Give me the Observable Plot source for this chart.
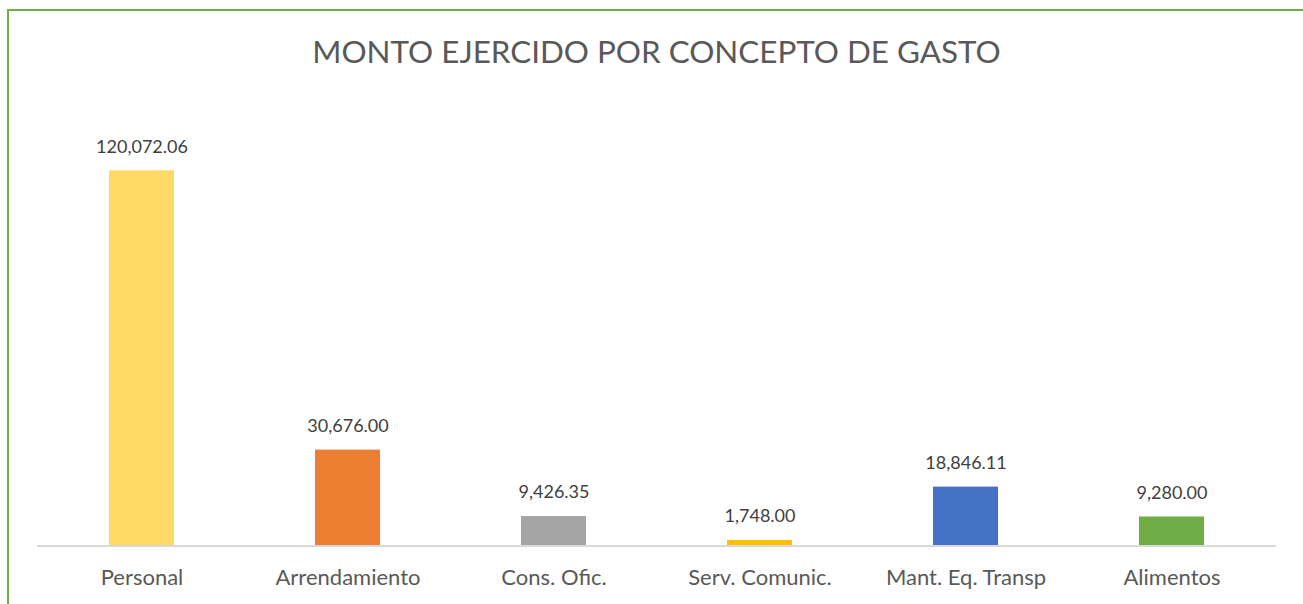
<!DOCTYPE html>
<html>
<head>
<meta charset="utf-8">
<script src="https://cdn.jsdelivr.net/npm/d3@7"></script>
<script src="https://cdn.jsdelivr.net/npm/@observablehq/plot@0.6"></script>
<style>
  html, body { margin: 0; padding: 0; background: #fff; }
  #wrap { position: relative; width: 1303px; height: 604px; overflow: hidden; font-family: Lato, "Open Sans", sans-serif; }
  #frame { position: absolute; left: 7px; top: 9px; width: 1320px; height: 640px; border: 2px solid #70AD47; box-sizing: border-box; }
  #title { position: relative; height: 90px; text-align: center; font-size: 31.4px; color: #595959; line-height: 1; padding-top: 36px; box-sizing: border-box; padding-left: 10px; }
  #chart { position: relative; }
</style>
</head>
<body>
<div id="wrap">
  <div id="frame"></div>
  <div id="title">MONTO EJERCIDO POR CONCEPTO DE GASTO</div>
  <div id="chart"></div>
</div>
<script>
const categories = ["Personal", "Arrendamiento", "Cons. Ofic.", "Serv. Comunic.", "Mant. Eq. Transp", "Alimentos"];
const values = [120072.06, 30676.00, 9426.35, 1748.00, 18846.11, 9280.00];
const colors = ["#FFD966", "#ED7D31", "#A5A5A5", "#FFC000", "#4472C4", "#70AD47"];

const data = categories.map((c, i) => ({ category: c, value: values[i] }));
const fmt = d3.format(",.2f");

const chart = Plot.plot({
  width: 1303,
  height: 514,
  marginLeft: 37,
  marginRight: 27,
  marginTop: 18,
  marginBottom: 58.5,
  style: { fontFamily: "Lato, 'Open Sans', sans-serif", background: "transparent" },
  x: { domain: categories, paddingInner: 0.685, paddingOuter: 0.3425, label: null },
  y: { domain: [0, 140000], axis: null },
  color: { domain: categories, range: colors },
  marks: [
    Plot.barY(data, { x: "category", y: "value", fill: "category" }),
    Plot.ruleY([0], { stroke: "#D9D9D9", strokeWidth: 2 }),
    Plot.text(data, { x: "category", y: "value", text: d => fmt(d.value), dy: -24, fontSize: 18, fill: "#404040" }),
    Plot.axisX({ tickSize: 0, tickPadding: 23, fontSize: 22, color: "#595959", label: null })
  ]
});
document.getElementById("chart").appendChild(chart);
</script>
</body>
</html>
